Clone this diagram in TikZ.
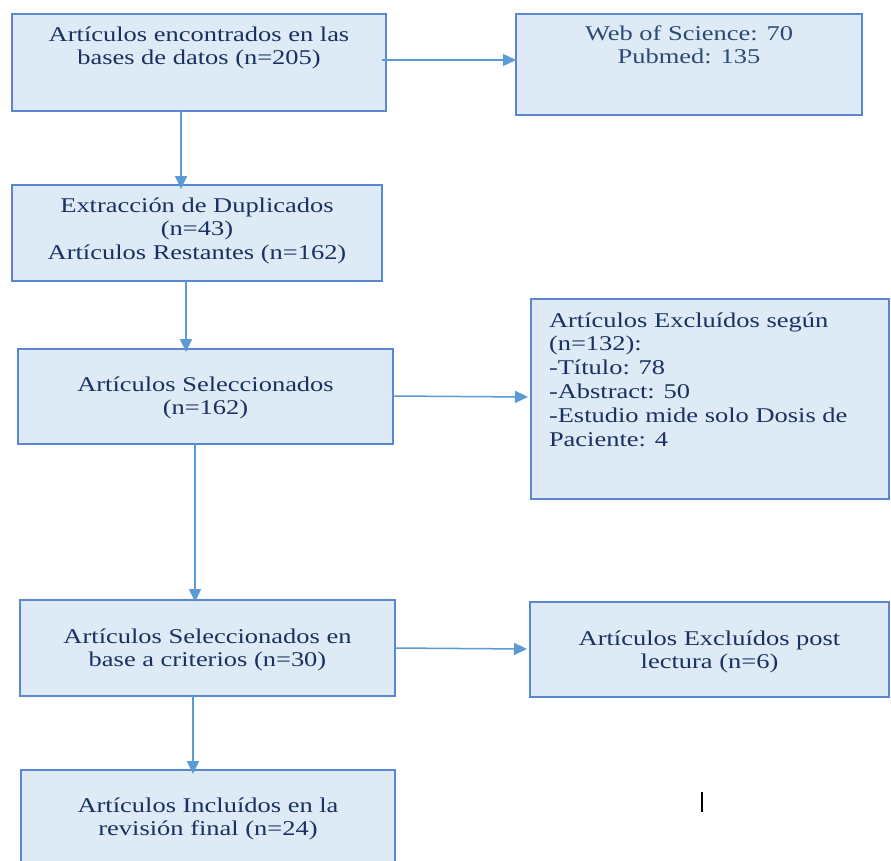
\documentclass[tikz,border=0pt]{standalone}
\usepackage{fontspec}
\setmainfont{Liberation Serif}[FakeStretch=1.26]
\usetikzlibrary{arrows.meta}
\definecolor{boxfill}{HTML}{DEEAF6}
\definecolor{boxline}{HTML}{5B87D2}
\definecolor{arrowc}{HTML}{5B9BD5}
\definecolor{txt}{HTML}{1A3060}
\definecolor{txtlight}{HTML}{2B4A72}
\newcommand{\topgap}[1]{\rule{0pt}{#1pt}}
\newcommand{\boxtext}[4]{\parbox[c][#2pt][t]{#1pt}{\centering\topgap{#3}#4\par}}
\begin{document}
\begin{tikzpicture}[x=1pt,y=-1pt,
  fbox/.style={draw=boxline, line width=1.6pt, fill=boxfill, inner sep=0pt, outer sep=0pt,
    text=txt, font=\fontsize{21}{23.8}\selectfont, anchor=north west},
  flow/.style={draw=arrowc, line width=1.5pt, -{Triangle[length=13pt,width=12pt]}}]
\useasboundingbox (0,0) rectangle (891,860);
\clip (0,0) rectangle (891,860);
\fill[white] (0,0) rectangle (891,860);

\node[fbox] (b1) at (12,14) {\boxtext{374}{97}{27}{Artículos encontrados en las\\bases de datos (n=205)}};
\node[fbox, text=txtlight] (b2) at (516,14) {\boxtext{346}{101}{26}{Web of Science: 70\\Pubmed: 135}};
\node[fbox] (b3) at (12,185) {\boxtext{370}{96}{27}{Extracción de Duplicados\\(n=43)\\Artículos Restantes (n=162)}};
\node[fbox] (b4) at (18,349) {\boxtext{375}{95}{42}{Artículos Seleccionados\\(n=162)}};
\node[fbox] (b5) at (531,299) {\parbox[c][200pt][t]{358pt}{\raggedright\leftskip=18pt\topgap{28}Artículos Excluídos según\\(n=132):\\-Título: 78\\-Abstract: 50\\-Estudio mide solo Dosis de\\Paciente: 4\par}};
\node[fbox] (b6) at (20,600) {\boxtext{375}{96}{43}{Artículos Seleccionados en\\base a criterios (n=30)}};
\node[fbox] (b7) at (530,602) {\boxtext{359}{95}{43}{Artículos Excluídos post\\lectura (n=6)}};
\node[fbox] (b8) at (21,770) {\boxtext{374}{100}{42}{Artículos Incluídos en la\\revisión final (n=24)}};

\coordinate (cur1) at (702,792);
\coordinate (cur2) at (702,812);
\draw[line width=1.6pt, black] (cur1) -- (cur2);

\draw[flow] ([xshift=-4pt]b1.east |- 0,60) -- (b2.west |- 0,60);
\draw[flow] (b1.south -| 181,0) -- ([yshift=-4pt]b3.north -| 181,0);
\draw[flow] (b3.south -| 186,0) -- ([yshift=-3pt]b4.north -| 186,0);
\draw[flow] (b4.south -| 195,0) -- ([yshift=-2pt]b6.north -| 195,0);
\draw[flow] (b4.east |- 0,396) -- ([xshift=-3pt]b5.west |- 0,397);
\draw[flow] (b6.east |- 0,648) -- ([xshift=-3pt]b7.west |- 0,649);
\draw[flow] (b6.south -| 193,0) -- ([yshift=-4pt]b8.north -| 193,0);
\end{tikzpicture}
\end{document}
